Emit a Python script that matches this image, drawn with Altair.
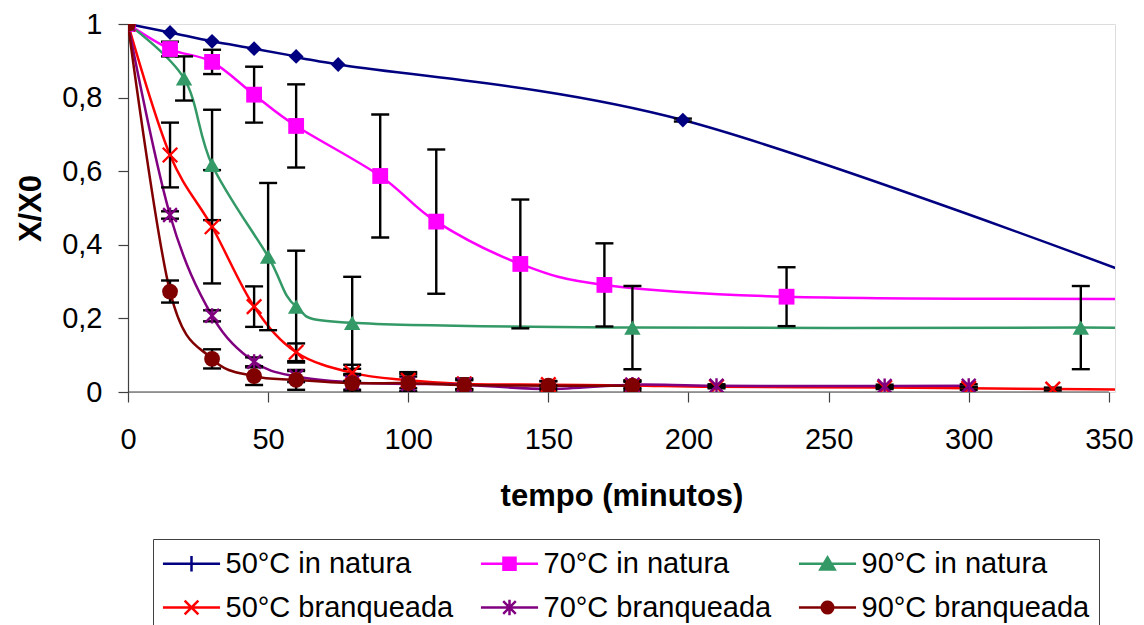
import math
import altair as alt
import pandas as pd

# ---------------- data ----------------
series_names = ["50°C in natura", "70°C in natura", "90°C in natura",
                "50°C branqueada", "70°C branqueada", "90°C branqueada"]
series_colors = ["#000080", "#FF00FF", "#339966", "#FF0000", "#800080", "#800000"]

t_50n = [0, 15, 30, 45, 60, 75, 198, 360]
y_50n = [1.0, 0.977, 0.953, 0.933, 0.912, 0.890, 0.739, 0.315]
e_50n = [0, 0, 0, 0, 0, 0, 0.004, 0]

t_70n = [0, 15, 30, 45, 60, 90, 110, 140, 170, 235, 360]
y_70n = [1.0, 0.932, 0.897, 0.808, 0.723, 0.587, 0.463, 0.348, 0.291, 0.259, 0.253]
e_70n = [0, 0.02, 0.033, 0.076, 0.113, 0.167, 0.196, 0.175, 0.113, 0.08, 0.08]

t_90n = [0, 20, 30, 50, 60, 80, 180, 340, 360]
y_90n = [1.0, 0.852, 0.617, 0.368, 0.232, 0.188, 0.175, 0.175, 0.173]
e_90n = [0, 0.06, 0.15, 0.2, 0.152, 0.125, 0.113, 0.113, 0.11]

t_50b = [0, 15, 30, 45, 60, 80, 100, 120, 150, 180, 210, 270, 300, 330, 360]
y_50b = [1.0, 0.644, 0.449, 0.232, 0.108, 0.052, 0.032, 0.022, 0.02, 0.018, 0.014, 0.012, 0.01, 0.008, 0.006]
e_50b = [0, 0.088, 0.154, 0.055, 0.024, 0.022, 0.022, 0.015, 0.01, 0.01, 0.004, 0.004, 0.004, 0.004, 0]

t_70b = [0, 15, 30, 45, 60, 80, 100, 120, 150, 180, 210, 270, 300]
y_70b = [1.0, 0.481, 0.207, 0.082, 0.042, 0.026, 0.022, 0.02, 0.008, 0.02, 0.017, 0.016, 0.017]
e_70b = [0, 0.01, 0.015, 0.012, 0.015, 0.02, 0.02, 0.012, 0.01, 0.01, 0.004, 0.004, 0.004]

t_90b = [0, 15, 30, 45, 60, 80, 100, 120, 150, 180]
y_90b = [1.0, 0.273, 0.090, 0.043, 0.033, 0.024, 0.024, 0.019, 0.017, 0.017]
e_90b = [0, 0.03, 0.026, 0.024, 0.027, 0.025, 0.025, 0.015, 0.012, 0.015]

x_ticks = [0, 50, 100, 150, 200, 250, 300, 350]
y_ticks = [0, 0.2, 0.4, 0.6, 0.8, 1.0]

all_t = [t_50n, t_70n, t_90n, t_50b, t_70b, t_90b]
all_y = [y_50n, y_70n, y_90n, y_50b, y_70b, y_90b]
all_e = [e_50n, e_70n, e_90n, e_50b, e_70b, e_90b]

rows = []
for name, ts, ys, es in zip(series_names, all_t, all_y, all_e):
    for t, v, e in zip(ts, ys, es):
        rows.append({"series": name, "x": t, "y": v, "err": e,
                     "lo": v - e, "hi": v + e})
df = pd.DataFrame(rows)
axis_df = pd.DataFrame({"x0": [x_ticks[0]], "x1": [x_ticks[-1]], "y0": [y_ticks[0]]})
legend_df = pd.DataFrame({"series": series_names, "x": [-1000] * 6, "y": [0.5] * 6})

# ---------------- styles ----------------
FONT = "Liberation Sans"
marker_styles = [
    dict(shape="diamond", filled=True, size=220, strokeWidth=0),
    dict(shape="square", filled=True, size=250, strokeWidth=0),
    dict(shape="triangle-up", filled=True, size=270, strokeWidth=0),
    dict(shape="M-1,-1L1,1M-1,1L1,-1", filled=False, size=210, strokeWidth=2.4),
    dict(shape="M-1,-1L1,1M-1,1L1,-1M0,-1.1L0,1.1", filled=False, size=190, strokeWidth=2.4),
    dict(shape="circle", filled=True, size=250, strokeWidth=0),
]
circ = "M" + "L".join(
    f"{0.41 * math.cos(2 * math.pi * k / 20):.3f},{0.41 * math.sin(2 * math.pi * k / 20):.3f}"
    for k in range(20)) + "Z"
# legend glyphs: a line through the marker (path units: 14 px)
legend_shapes = [
    "M-2.04,0L2.04,0M0,-0.55L0,0.55",
    "M-2.04,0L2.04,0M-0.43,-0.43L0.43,-0.43L0.43,0.43L-0.43,0.43Z",
    "M-2.04,0L2.04,0M0,-0.45L0.51,0.41L-0.51,0.41Z",
    "M-2.04,0L2.04,0M-0.49,-0.49L0.49,0.49M-0.49,0.49L0.49,-0.49",
    "M-2.04,0L2.04,0M-0.45,-0.45L0.45,0.45M-0.45,0.45L0.45,-0.45M0,-0.55L0,0.55",
    "M-2.04,0L2.04,0" + circ,
]

xscale = alt.Scale(domain=[0, 352.2], nice=False, zero=False)
yscale = alt.Scale(domain=[0, 1], nice=False)

x_axis = alt.Axis(values=x_ticks, tickSize=10, labelPadding=23, labelFontSize=29,
                  labelFont=FONT, labelColor="black", domain=False,
                  tickColor="#404040", tickWidth=1.2, grid=False, labelFlush=False,
                  labelOverlap=False,
                  title="tempo (minutos)", titleFont=FONT, titleFontSize=31,
                  titleFontWeight="bold", titleColor="black",
                  titleBaseline="alphabetic", titleY=113)
y_axis = alt.Axis(values=y_ticks, tickSize=10, labelPadding=16, labelFontSize=29,
                  labelFont=FONT, labelColor="black",
                  labelExpr="replace(format(datum.value, '~g'), '.', ',')",
                  domainColor="#404040", domainWidth=1.2, tickColor="#404040",
                  tickWidth=1.2, grid=False, labelFlush=False, labelOverlap=False,
                  title="X/X0", titleFont=FONT, titleFontSize=31,
                  titleFontWeight="bold", titleColor="black", titleAngle=270,
                  titleAlign="center", titleBaseline="alphabetic",
                  titleX=-88, titleY=184)

Xp = alt.X("x:Q", scale=xscale)
Yp = alt.Y("y:Q", scale=yscale)

base = alt.Chart(df)

# axis layer (carries the axes) + x-axis line drawn from 0 to the last tick
x_line = alt.Chart(axis_df).mark_rule(color="#404040", strokeWidth=1.2).encode(
    x=alt.X("x0:Q", scale=xscale, axis=x_axis), x2="x1:Q",
    y=alt.Y("y0:Q", scale=yscale, axis=y_axis))

line_layers = []
for name, col in zip(series_names, series_colors):
    line_layers.append(
        base.transform_filter(alt.datum.series == name)
        .mark_line(interpolate="cardinal", strokeWidth=2.5, color=col, clip=True)
        .encode(x=Xp, y=Yp)
    )

err_df = base.transform_filter("datum.err > 0")
err_rule = err_df.mark_rule(color="black", strokeWidth=2.4, clip=True).encode(
    x=Xp, y=alt.Y("lo:Q", scale=yscale), y2="hi:Q")
cap_lo = err_df.mark_tick(color="black", orient="horizontal", size=18, thickness=2.4,
                          opacity=1, clip=True).encode(x=Xp, y=alt.Y("lo:Q", scale=yscale))
cap_hi = err_df.mark_tick(color="black", orient="horizontal", size=18, thickness=2.4,
                          opacity=1, clip=True).encode(x=Xp, y=alt.Y("hi:Q", scale=yscale))

point_layers = []
for name, col, st in zip(series_names, series_colors, marker_styles):
    point_layers.append(
        base.transform_filter(alt.datum.series == name)
        .mark_point(shape=st["shape"], filled=st["filled"], size=st["size"],
                    color=col, strokeWidth=st["strokeWidth"], opacity=1, clip=True)
        .encode(x=Xp, y=Yp)
    )

legend_layer = alt.Chart(legend_df).mark_point(
    filled=True, size=784, strokeWidth=2.5, opacity=1, clip=True
).encode(
    x=Xp, y=Yp,
    fill=alt.Fill("series:N", scale=alt.Scale(domain=series_names, range=series_colors),
                  legend=alt.Legend(
                      orient="none", legendX=25, legendY=515, columns=3,
                      direction="horizontal", title=None,
                      symbolSize=784, symbolStrokeWidth=2.5, symbolOpacity=1,
                      symbolOffset=14,
                      labelFont=FONT, labelFontSize=29, labelColor="black",
                      labelOffset=18.5, labelLimit=500,
                      columnPadding=21, rowPadding=13, padding=9,
                      strokeColor="#404040", fillColor="white")),
    stroke=alt.Stroke("series:N", scale=alt.Scale(domain=series_names, range=series_colors)),
    shape=alt.Shape("series:N", scale=alt.Scale(domain=series_names, range=legend_shapes)),
)

chart = alt.layer(
    x_line, *line_layers, err_rule, cap_lo, cap_hi, *point_layers, legend_layer
).properties(
    width=987, height=368,
    autosize=alt.AutoSizeParams(type="none"),
    padding={"left": 120, "top": 16, "right": 21, "bottom": 256},
).configure_view(stroke=None).configure(font=FONT)

chart.save("out.html", embed_options={"renderer": "svg", "actions": False})
